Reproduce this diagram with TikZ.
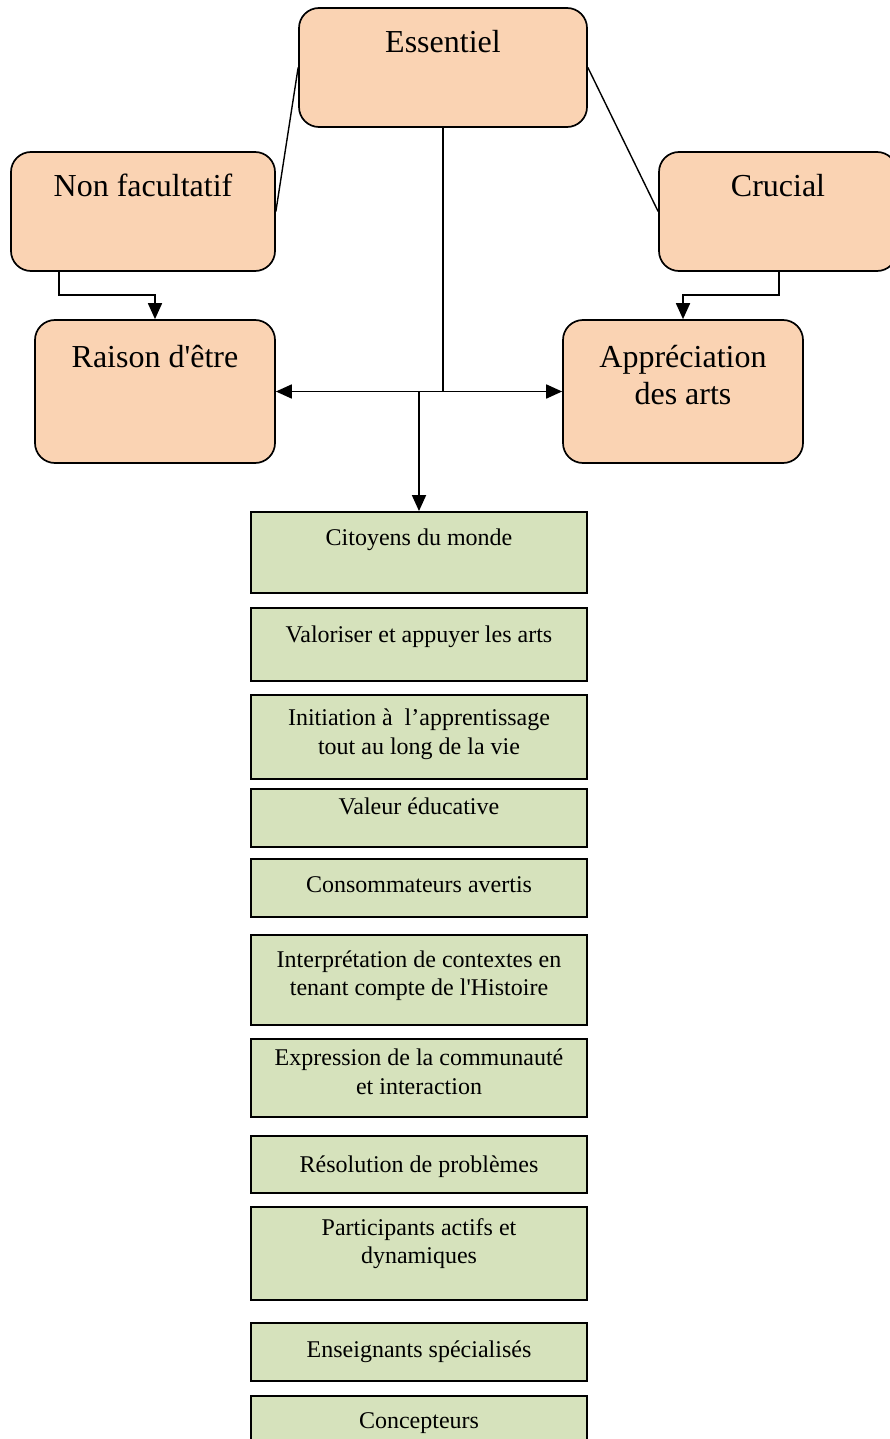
\documentclass[tikz,border=0pt]{standalone}
\usepackage{fontspec}
\setmainfont{Liberation Serif}
\usetikzlibrary{arrows.meta}
\definecolor{peach}{HTML}{FAD3B3}
\definecolor{sage}{HTML}{D6E2BC}
\begin{document}
\begin{tikzpicture}[x=1pt,y=-1pt,
  pbox/.style={draw, line width=1.7pt, rounded corners=20pt, fill=peach, inner sep=0pt},
  gbox/.style={draw, line width=1.9pt, fill=sage, inner sep=0pt, minimum width=336pt},
  ptext/.style={anchor=base, font=\fontsize{32}{37}\selectfont, align=center, inner sep=0pt},
  gtext/.style={anchor=base, font=\fontsize{24}{29}\selectfont, align=center, inner sep=0pt},
  link/.style={line width=1.4pt},
  conn/.style={line width=1.8pt},
  arr/.style={line width=1.8pt, -{Triangle[length=16pt,width=14pt]}},
  arrs/.style={line width=1.8pt, {Triangle[length=16pt,width=14pt]}-{Triangle[length=16pt,width=14pt]}},
]
\useasboundingbox (0,0) rectangle (890,1439);

% top-level rounded boxes
\node[pbox, minimum width=288pt, minimum height=119pt] (ess)    at (443,67.5) {};
\node[pbox, minimum width=264pt, minimum height=119pt] (nonf)   at (143,211.5) {};
\node[pbox, minimum width=238pt, minimum height=119pt] (cruc)   at (778,211.5) {};
\node[pbox, minimum width=240pt, minimum height=143pt] (raison) at (155,391.5) {};
\node[pbox, minimum width=240pt, minimum height=143pt] (appr)   at (683,391.5) {};

\node[ptext] (tess)  at (443,53)  {Essentiel};
\node[ptext] (tnonf) at (143,197) {Non facultatif};
\node[ptext] (tcruc) at (778,197) {Crucial};
\node[ptext] (trais) at (155,367) {Raison d\textquotesingle être};
\node[ptext] (tapp1) at (683,367) {Appréciation};
\node[ptext] (tapp2) at (683,404) {des arts};

% list of green boxes
\node[gbox, minimum height=81pt] (g1)  at (419,552.5)  {};
\node[gbox, minimum height=73pt] (g2)  at (419,644.5)  {};
\node[gbox, minimum height=84pt] (g3)  at (419,737)    {};
\node[gbox, minimum height=58pt] (g4)  at (419,818)    {};
\node[gbox, minimum height=58pt] (g5)  at (419,888)    {};
\node[gbox, minimum height=90pt] (g6)  at (419,980)    {};
\node[gbox, minimum height=78pt] (g7)  at (419,1078)   {};
\node[gbox, minimum height=57pt] (g8)  at (419,1164.5) {};
\node[gbox, minimum height=93pt] (g9)  at (419,1253.5) {};
\node[gbox, minimum height=58pt] (g10) at (419,1352)   {};
\node[gbox, minimum height=60pt] (g11) at (419,1426)   {};

\node[gtext] (t1)  at (419,545)  {Citoyens du monde};
\node[gtext] (t2)  at (419,642)  {Valoriser et appuyer les arts};
\node[gtext] (t3a) at (419,725)  {Initiation à\ \ l’apprentissage};
\node[gtext] (t3b) at (419,754)  {tout au long de la vie};
\node[gtext] (t4)  at (419,814)  {Valeur éducative};
\node[gtext] (t5)  at (419,892)  {Consommateurs avertis};
\node[gtext] (t6a) at (419,967)  {Interprétation de contextes en};
\node[gtext] (t6b) at (419,995)  {tenant compte de l\textquotesingle Histoire};
\node[gtext] (t7a) at (419,1065) {Expression de la communauté};
\node[gtext] (t7b) at (419,1094) {et interaction};
\node[gtext] (t8)  at (419,1172) {Résolution de problèmes};
\node[gtext] (t9a) at (419,1235) {Participants actifs et};
\node[gtext] (t9b) at (419,1263) {dynamiques};
\node[gtext] (t10) at (419,1357) {Enseignants spécialisés};
\node[gtext] (t11) at (419,1428) {Concepteurs};

% connectors
\draw[link] (ess.west) -- (nonf.east);
\draw[link] (ess.east) -- (cruc.west);

\coordinate (nfout) at (59,271);
\coordinate (crout) at (779,271);
\draw[arr] (nfout) -- (59,295) -| (raison.north);
\draw[arr] (crout) -- (779,295) -| (appr.north);

\coordinate (jt) at (ess.south |- raison.east);
\coordinate (jd) at (g1.north |- raison.east);
\draw[conn] (ess.south) -- (jt);
\draw[arrs] (raison.east) -- (appr.west);
\draw[arr] (jd) -- (g1.north);
\end{tikzpicture}
\end{document}
